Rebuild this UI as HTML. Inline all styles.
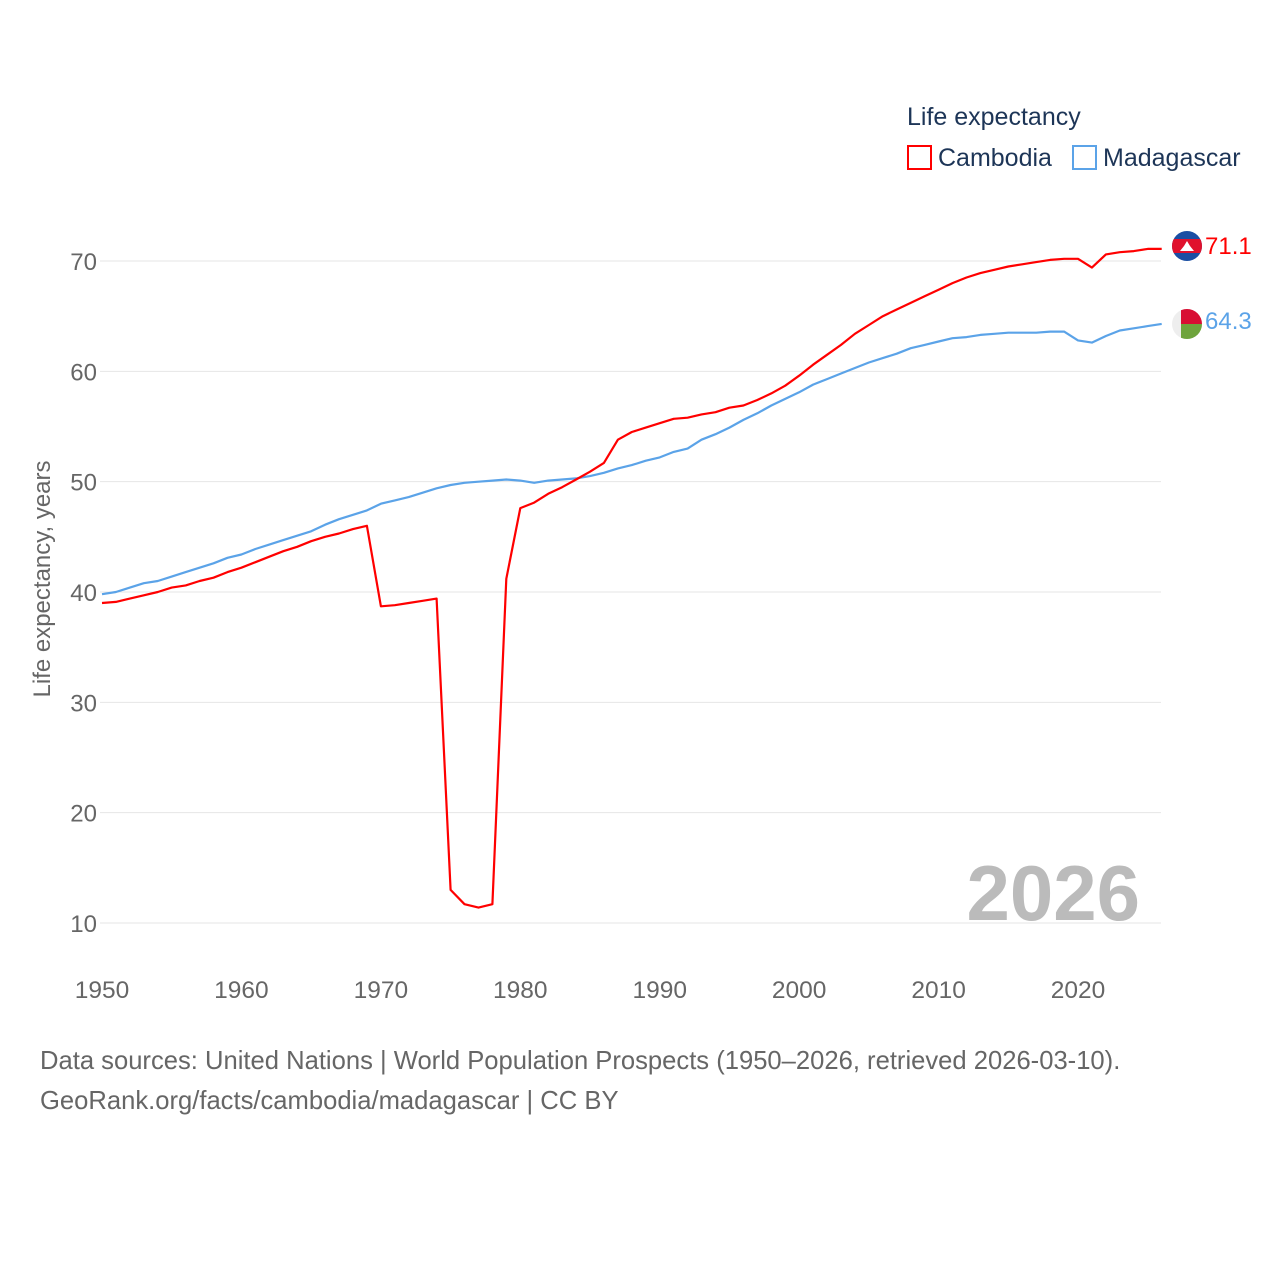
<!DOCTYPE html>
<html><head><meta charset="utf-8">
<style>
body{margin:0;background:#fff;font-family:"Liberation Sans",sans-serif;}
svg{display:block}
</style></head>
<body>
<svg id="chart" width="1280" height="1280">
<text x="907" y="125" font-size="25" fill="#1d3557">Life expectancy</text>
<g>
<rect x="908" y="146" width="23" height="23" fill="none" stroke="#ff0000" stroke-width="2"/>
<text x="938" y="166" font-size="25" fill="#1d3557">Cambodia</text></g>
<g>
<rect x="1073" y="146" width="23" height="23" fill="none" stroke="#5ba3e8" stroke-width="2"/>
<text x="1103" y="166" font-size="25" fill="#1d3557">Madagascar</text></g>
<g id="grid"></g><g id="yticks"></g><g id="xticks"></g>
<text transform="translate(50,579) rotate(-90)" text-anchor="middle" font-size="24" fill="#666">Life expectancy, years</text>
<text x="1140" y="920" text-anchor="end" font-size="78" font-weight="bold" fill="#bbb">2026</text>
<g id="lines"></g>
<g>
<clipPath id="c1"><circle cx="1187" cy="246" r="15"/></clipPath>
<g clip-path="url(#c1)"><rect x="1170" y="229" width="34" height="34" fill="#1a4ea3"/><rect x="1170" y="239" width="34" height="14" fill="#e0112d"/>
<polygon points="1180,251 1194,251 1190,246 1187,241 1184,246" fill="#fff"/></g></g>
<g>
<clipPath id="c2"><circle cx="1187" cy="324" r="15"/></clipPath>
<g clip-path="url(#c2)"><rect x="1170" y="307" width="34" height="34" fill="#eee"/><rect x="1181" y="307" width="23" height="17" fill="#d80e33"/><rect x="1181" y="324" width="23" height="17" fill="#6ea43c"/></g></g>
<text x="1205" y="254" font-size="24" fill="#ff0000">71.1</text>
<text x="1205" y="329" font-size="24" fill="#5ba3e8">64.3</text>
<text x="40" y="1069" font-size="25.6" fill="#666">Data sources: United Nations | World Population Prospects (1950–2026, retrieved 2026-03-10).</text>
<text x="40" y="1109" font-size="25.6" fill="#666">GeoRank.org/facts/cambodia/madagascar | CC BY</text>
</svg>
<script>
const startYear = 1950;
const yTickValues = [10,20,30,40,50,60,70];
const xTickValues = [1950,1960,1970,1980,1990,2000,2010,2020];
const cambodia = [39.0,39.1,39.4,39.7,40.0,40.4,40.6,41.0,41.3,41.8,42.2,42.7,43.2,43.7,44.1,44.6,45.0,45.3,45.7,46.0,38.7,38.8,39.0,39.2,39.4,13.0,11.7,11.4,11.7,41.2,47.6,48.1,48.9,49.5,50.2,50.9,51.7,53.8,54.5,54.9,55.3,55.7,55.8,56.1,56.3,56.7,56.9,57.4,58.0,58.7,59.6,60.6,61.5,62.4,63.4,64.2,65.0,65.6,66.2,66.8,67.4,68.0,68.5,68.9,69.2,69.5,69.7,69.9,70.1,70.2,70.2,69.4,70.6,70.8,70.9,71.1,71.1];
const madagascar = [39.8,40.0,40.4,40.8,41.0,41.4,41.8,42.2,42.6,43.1,43.4,43.9,44.3,44.7,45.1,45.5,46.1,46.6,47.0,47.4,48.0,48.3,48.6,49.0,49.4,49.7,49.9,50.0,50.1,50.2,50.1,49.9,50.1,50.2,50.3,50.5,50.8,51.2,51.5,51.9,52.2,52.7,53.0,53.8,54.3,54.9,55.6,56.2,56.9,57.5,58.1,58.8,59.3,59.8,60.3,60.8,61.2,61.6,62.1,62.4,62.7,63.0,63.1,63.3,63.4,63.5,63.5,63.5,63.6,63.6,62.8,62.6,63.2,63.7,63.9,64.1,64.3];
const ns="http://www.w3.org/2000/svg";
const X = yr => 102 + (yr-1950)*(976/70);
const Y = v => 923 - (v-10)*(662/60);
function mk(tag, attrs, parent){const e=document.createElementNS(ns,tag);for(const k in attrs)e.setAttribute(k,attrs[k]);parent.appendChild(e);return e;}
const grid=document.getElementById('grid'), yt=document.getElementById('yticks'), xt=document.getElementById('xticks'), lines=document.getElementById('lines');
yTickValues.forEach(v=>{
  const l=mk('line',{x1:100,x2:1161,y1:Y(v),y2:Y(v),stroke:'#e6e6e6','stroke-width':1},grid);
  
  
  const t=mk('text',{x:97,y:Y(v)+9,'text-anchor':'end','font-size':24,fill:'#666'},yt);
  t.textContent=v;
  
  
});
xTickValues.forEach(v=>{
  const t=mk('text',{x:X(v),y:998,'text-anchor':'middle','font-size':24.5,fill:'#666'},xt);
  t.textContent=v;
  
  
});
function drawLine(arr,color,name){
  const d=arr.map((v,i)=>(i?'L':'M')+X(startYear+i).toFixed(1)+','+Y(v).toFixed(1)).join('');
  const p=mk('path',{d:d,fill:'none',stroke:color,'stroke-width':2.2,'stroke-linejoin':'round'},lines);
  
  
}
drawLine(madagascar,'#5ba3e8','madagascar-line');
drawLine(cambodia,'#ff0000','cambodia-line');
</script>
</body></html>
